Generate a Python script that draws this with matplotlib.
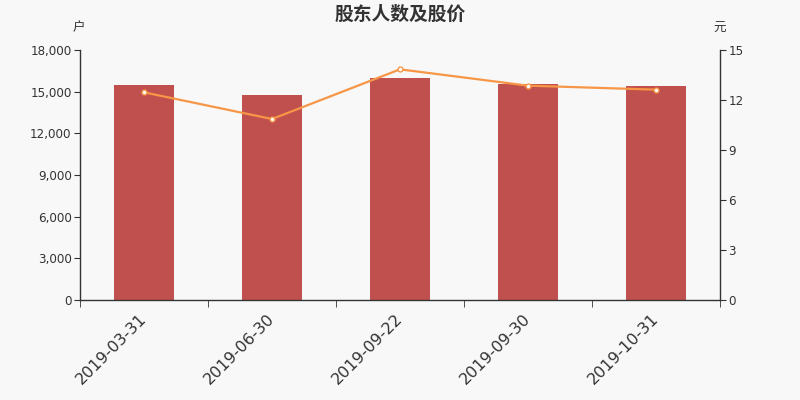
import numpy as np
import matplotlib.pyplot as plt
from matplotlib.ticker import FuncFormatter, FixedLocator

plt.rcParams['font.family'] = ['Noto Sans CJK SC', 'DejaVu Sans']

dates = ['2019-03-31', '2019-06-30', '2019-09-22', '2019-09-30', '2019-10-31']
holders = [15500, 14740, 15950, 15580, 15400]
price = [12.46, 10.86, 13.84, 12.86, 12.62]

bg = '#f8f8f8'
txt = '#333333'

fig = plt.figure(figsize=(8, 4), dpi=100, facecolor=bg)
ax = fig.add_axes([0.1, 0.25, 0.8, 0.625], facecolor=bg)
ax2 = ax.twinx()

x = np.arange(len(dates))
ax.bar(x, holders, width=0.47, color='#c0504d', zorder=2)
ax2.plot(x, price, color='#f79646', lw=1.6, marker='o', ms=3.5,
         mfc='white', mec='#f79646', mew=1, zorder=3)

ax.set_xlim(-0.5, len(dates) - 0.5)
ax.set_ylim(0, 18000)
ax.set_yticks(np.arange(0, 18001, 3000))
ax.yaxis.set_major_formatter(FuncFormatter(lambda v, p: f'{int(v):,}'))
ax2.set_ylim(0, 15)
ax2.set_yticks(np.arange(0, 16, 3))

# ticks at category boundaries, labels under the bar centres
ax.xaxis.set_major_locator(FixedLocator(x))
ax.xaxis.set_minor_locator(FixedLocator(np.arange(-0.5, len(dates), 1)))
ax.set_xticklabels(dates, rotation=45, ha='right', va='center',
                   rotation_mode='anchor', fontsize=11.5, color=txt,
                   family='DejaVu Sans')
ax.tick_params(axis='x', which='major', length=0, pad=12)
ax.tick_params(axis='x', which='minor', length=5, color=txt, direction='out')

for a in (ax, ax2):
    for s in a.spines.values():
        s.set_visible(False)
    a.tick_params(axis='y', length=4, color=txt, labelsize=8.6, labelcolor=txt, pad=2)
    for lab in a.get_yticklabels():
        lab.set_family('DejaVu Sans')
ax.spines['left'].set_visible(True)
ax.spines['bottom'].set_visible(True)
ax2.spines['right'].set_visible(True)
for s in (ax.spines['left'], ax.spines['bottom'], ax2.spines['right']):
    s.set_color(txt)
    s.set_linewidth(1)

fig.text(0.5, 0.965, '股东人数及股价', ha='center', va='center',
         fontsize=13.5, fontweight='bold', color=txt)
fig.text(0.099, 0.93, '户', ha='center', va='center', fontsize=9, color=txt)
fig.text(0.899, 0.928, '元', ha='center', va='center', fontsize=9, color=txt)

fig.savefig('out.png', dpi=100, facecolor=bg)
